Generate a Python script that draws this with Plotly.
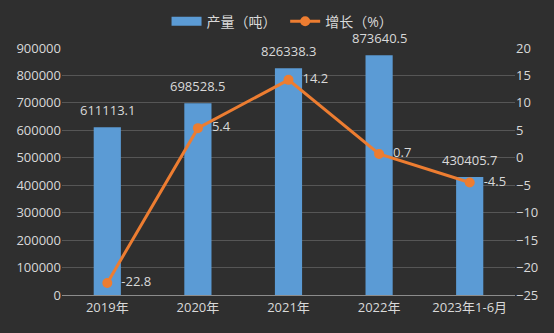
import plotly.graph_objects as go

categories = ["2019年", "2020年", "2021年", "2022年", "2023年1-6月"]
output_tons = [611113.1, 698528.5, 826338.3, 873640.5, 430405.7]
growth_pct = [-22.8, 5.4, 14.2, 0.7, -4.5]

BAR_COLOR = "#5b9bd5"
LINE_COLOR = "#ed7d31"
TEXT_COLOR = "#d9d9d9"

fig = go.Figure()
fig.add_trace(go.Bar(
    x=categories, y=output_tons, name="产量（吨）", showlegend=False,
    marker=dict(color=BAR_COLOR, line=dict(width=0)),
    width=0.3,
))
# legend entry drawn as a wide rectangle like the reference
fig.add_trace(go.Scatter(
    x=[None], y=[None], name="产量（吨） ", mode="lines",
    line=dict(color=BAR_COLOR, width=9),
))
fig.add_trace(go.Scatter(
    x=categories, y=growth_pct, name="增长（%）", yaxis="y2",
    mode="lines+markers+text",
    line=dict(color=LINE_COLOR, width=3),
    marker=dict(color=LINE_COLOR, size=10),
    text=[f"  {v}" for v in growth_pct], textposition="middle right",
    textfont=dict(color=TEXT_COLOR, size=13), cliponaxis=False,
))

for c, v in zip(categories, output_tons):
    fig.add_annotation(x=c, y=v, xref="x", yref="y", text=f"{v:.1f}",
                       showarrow=False, yanchor="bottom", yshift=6,
                       font=dict(color=TEXT_COLOR, size=13))

font_family = "Open Sans, Noto Sans CJK SC, sans-serif"
fig.update_layout(
    width=554, height=333,
    margin=dict(l=62, r=39, t=48, b=38, autoexpand=False),
    paper_bgcolor="#2f2f2f", plot_bgcolor="rgba(0,0,0,0)",
    font=dict(family=font_family, color=TEXT_COLOR, size=12),
    showlegend=True,
    legend=dict(orientation="h", xref="container", yref="container",
                x=0.51, xanchor="center", y=0.935, yanchor="middle",
                font=dict(size=14, color=TEXT_COLOR), bgcolor="rgba(0,0,0,0)"),
    xaxis=dict(showgrid=False, showline=True, linecolor="#8c8c8c", linewidth=1,
               ticks="", tickfont=dict(size=13, color=TEXT_COLOR)),
    yaxis=dict(range=[0, 900000], dtick=100000, showgrid=True, gridcolor="#565656",
               zeroline=False, tickfont=dict(size=13, color=TEXT_COLOR), ticks="",
               tickformat="d"),
    yaxis2=dict(range=[-25, 20], dtick=5, overlaying="y", side="right",
                showgrid=False, zeroline=False, tickfont=dict(size=13, color=TEXT_COLOR),
                ticks=""),
)
fig.write_html("out.html")
